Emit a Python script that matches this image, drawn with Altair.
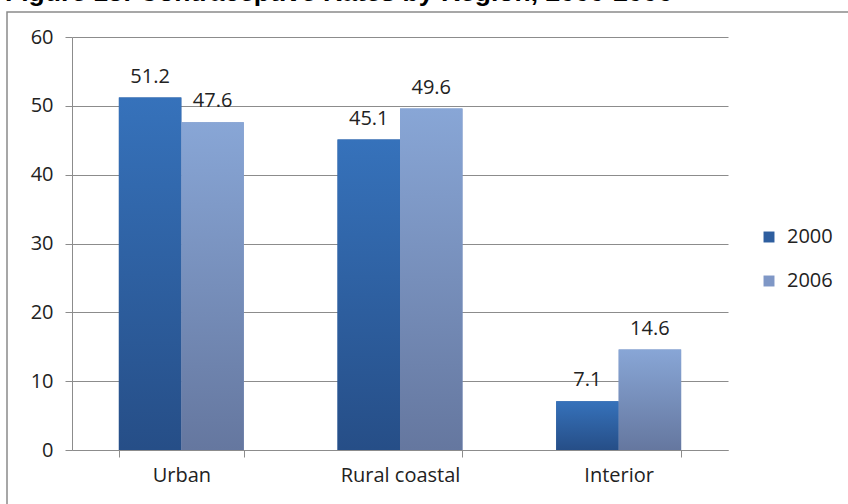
import altair as alt
import pandas as pd

regions = ["Urban", "Rural coastal", "Interior"]
years = ["2000", "2006"]
rate_2000 = [51.2, 45.1, 7.1]
rate_2006 = [47.6, 49.6, 14.6]
y_ticks = [0, 10, 20, 30, 40, 50, 60]

rows = []
for i, r in enumerate(regions):
    rows.append({"region": r, "year": years[0], "rate": rate_2000[i]})
    rows.append({"region": r, "year": years[1], "rate": rate_2006[i]})
df = pd.DataFrame(rows)

FONT = "Open Sans"
GRID = "#8c8c8c"
TXT = "#222222"

x_enc = alt.X(
    "region:N", sort=regions,
    scale=alt.Scale(paddingInner=0.4286, paddingOuter=0.2143),
    axis=alt.Axis(title=None, labelAngle=0, tickBand="extent", tickSize=7,
                  labelPadding=8, labelFontSize=20, labelFont=FONT, labelColor=TXT,
                  domainColor=GRID, tickColor=GRID, grid=False),
)
y_enc = alt.Y(
    "rate:Q", scale=alt.Scale(domain=[0, 60], nice=False),
    axis=alt.Axis(title=None, values=y_ticks, tickSize=7, labelPadding=12,
                  labelFontSize=20, labelFont=FONT, labelColor=TXT,
                  domainColor=GRID, tickColor=GRID, grid=True, gridColor=GRID,
                  gridWidth=1),
)
xo = alt.XOffset("year:N", sort=years)

base = alt.Chart(df)

frame = alt.Chart(pd.DataFrame({"a": [0]})).mark_rect(
    fill=None, stroke="#8a8a8a", strokeWidth=1.5
).encode(x=alt.value(-65), x2=alt.value(900), y=alt.value(-25), y2=alt.value(600))

bars = base.mark_bar().encode(
    x=x_enc, y=y_enc, xOffset=xo,
    color=alt.Color("year:N", sort=years,
                    scale=alt.Scale(domain=years, range=["#2E5E9F", "#7F97C6"]),
                    legend=alt.Legend(title=None, orient="none", legendX=687, legendY=190,
                                      symbolType="square", symbolSize=120,
                                      symbolStrokeWidth=0, labelFontSize=20,
                                      labelFont=FONT, labelColor=TXT, rowPadding=24,
                                      labelOffset=8)),
)

def grad(top, bottom):
    return alt.Gradient(gradient="linear",
                        stops=[alt.GradientStop(color=top, offset=0),
                               alt.GradientStop(color=bottom, offset=1)],
                        x1=0, x2=0, y1=0, y2=1)

g2000 = base.transform_filter(alt.datum.year == years[0]).mark_bar(
    color=grad("#3672BB", "#264E87")
).encode(x=alt.X("region:N", sort=regions), y="rate:Q", xOffset=xo)

g2006 = base.transform_filter(alt.datum.year == years[1]).mark_bar(
    color=grad("#88A6D6", "#65779F")
).encode(x=alt.X("region:N", sort=regions), y="rate:Q", xOffset=xo)

labels = base.mark_text(baseline="alphabetic", dy=-15, fontSize=20, font=FONT,
                        color=TXT).encode(
    x=alt.X("region:N", sort=regions), y="rate:Q", xOffset=xo,
    text=alt.Text("rate:Q", format=".1f"),
)

chart = alt.layer(frame, bars, g2000, g2006, labels).properties(
    width=656, height=413,
    title=alt.Title("Figure 13: Contraceptive Rates by Region, 2000-2006",
                    anchor="start", frame="group", dx=-67, offset=0, dy=16,
                    baseline="alphabetic",
                    fontSize=26.5, font="Liberation Sans", fontWeight="bold",
                    color="#000000"),
    autosize=alt.AutoSizeParams(type="none"),
    padding={"left": 72, "top": 37, "right": 120, "bottom": 54},
).configure_view(stroke=None)

chart.save("out.html", embed_options={"renderer": "svg", "actions": False})
